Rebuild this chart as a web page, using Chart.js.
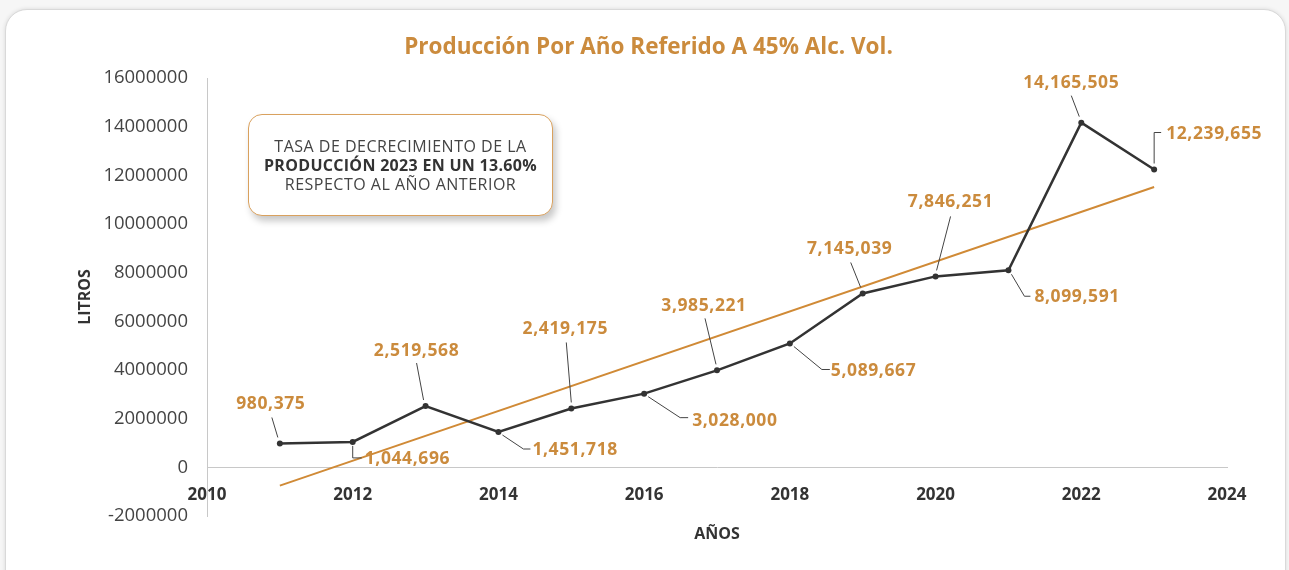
<!DOCTYPE html>
<html>
<head>
<meta charset="utf-8">
<script src="https://cdn.jsdelivr.net/npm/chart.js@4.4.1/dist/chart.umd.min.js"></script>
<style>
  html, body { margin:0; padding:0; width:1289px; height:570px; overflow:hidden; background:#f6f6f6; font-family:"Open Sans", sans-serif; }
  #card { position:absolute; left:5px; top:9px; width:1279px; height:600px; background:#fff; border:1px solid #d9d9d9; border-radius:22px; box-shadow:0 0 4px rgba(0,0,0,0.12); }
  #wrap { position:absolute; left:0; top:0; width:1289px; height:570px; }
  #note { position:absolute; left:248px; top:114px; width:303px; height:100px; background:#fff; border:1px solid #d9a15e; border-radius:14px; box-shadow:3px 5px 7px rgba(0,0,0,0.22); display:flex; flex-direction:column; justify-content:center; align-items:center; color:#444; font-size:16px; letter-spacing:0.5px; line-height:19px; text-align:center; z-index:5; }
  #note b { font-weight:700; color:#333; letter-spacing:0.3px; }
</style>
</head>
<body>
<div id="card"></div>
<div id="wrap"><canvas id="c" width="1289" height="570"></canvas></div>
<div id="note">
  <div>TASA DE DECRECIMIENTO DE LA</div>
  <div><b>PRODUCCIÓN 2023 EN UN 13.60%</b></div>
  <div>RESPECTO AL AÑO ANTERIOR</div>
</div>
<script>
const years = [2011, 2012, 2013, 2014, 2015, 2016, 2017, 2018, 2019, 2020, 2021, 2022, 2023];
const produccion = [980375, 1044696, 2519568, 1451718, 2419175, 3028000, 3985221, 5089667, 7145039, 7846251, 8099591, 14165505, 12239655];
const trendYears = [2011, 2023];
const trendValues = [-750000, 11520000];
const xTickRange = [2010, 2024];
const yTickRange = [-2000000, 16000000];

const ORANGE = '#cb8b3d';
const DARK = '#333333';

// label leader layouts (pixel offsets from the point) — styling only
const labelLayout = [
  {path:[[-2,-6],[-8,-26]], t:[-9,-39], align:'center'},
  {path:[[0,4],[0,16],[9,16]], t:[12,17], align:'left'},
  {path:[[-2,-6],[-9,-43]], t:[-9,-55], align:'center'},
  {path:[[4,3],[25,17],[32,17]], t:[34,18], align:'left'},
  {path:[[0,-6],[-5,-66]], t:[-6,-79], align:'center'},
  {path:[[4,3],[36,24],[44,24]], t:[48,27], align:'left'},
  {path:[[-1,-6],[-12,-52]], t:[-13,-64], align:'center'},
  {path:[[4,3],[32,26],[40,26]], t:[41,28], align:'left'},
  {path:[[-2,-6],[-12,-31]], t:[-13,-44], align:'center'},
  {path:[[1,-6],[15,-60]], t:[15,-74], align:'center'},
  {path:[[3,4],[16,26],[22,26]], t:[26,27], align:'left'},
  {path:[[-2,-6],[-10,-27]], t:[-10,-40], align:'center'},
  {path:[[0,-6],[0,-37],[7,-37]], t:[12,-35], align:'left'}
];

const labelPlugin = {
  id: 'pointLabels',
  afterDatasetsDraw(chart) {
    const ctx = chart.ctx;
    const meta = chart.getDatasetMeta(0);
    ctx.save();
    ctx.letterSpacing = '0.6px';
    meta.data.forEach((pt, i) => {
      const L = labelLayout[i];
      const x = pt.x, y = pt.y;
      ctx.beginPath();
      ctx.strokeStyle = '#444';
      ctx.lineWidth = 1;
      L.path.forEach((p, k) => {
        if (k === 0) ctx.moveTo(x + p[0], y + p[1]); else ctx.lineTo(x + p[0], y + p[1]);
      });
      ctx.stroke();
      ctx.fillStyle = ORANGE;
      ctx.font = '700 17.5px "Open Sans", sans-serif';
      ctx.textAlign = L.align;
      ctx.textBaseline = 'middle';
      ctx.fillText(produccion[i].toLocaleString('en-US'), x + L.t[0], y + L.t[1]);
    });
    ctx.restore();
  }
};

new Chart(document.getElementById('c'), {
  type: 'line',
  data: {
    datasets: [
      {
        label: 'Producción',
        data: years.map((x, i) => ({x, y: produccion[i]})),
        borderColor: DARK,
        backgroundColor: DARK,
        borderWidth: 2.5,
        pointRadius: 3,
        pointBackgroundColor: DARK,
        pointBorderWidth: 0,
        tension: 0,
        order: 1
      },
      {
        label: 'Tendencia',
        data: trendYears.map((x, i) => ({x, y: trendValues[i]})),
        borderColor: '#d08a36',
        borderWidth: 2,
        pointRadius: 0,
        tension: 0,
        order: 2
      }
    ]
  },
  options: {
    responsive: false,
    animation: false,
    devicePixelRatio: 1,
    layout: { padding: { left: 70, right: 62, top: 0, bottom: 54 } },
    plugins: {
      legend: { display: false },
      tooltip: { enabled: false },
      title: {
        display: true,
        text: 'Producción Por Año Referido A 45% Alc. Vol.',
        color: ORANGE,
        font: { family: '"Open Sans", sans-serif', size: 22.5, weight: '700' },
        padding: { top: 34, bottom: 17 }
      }
    },
    scales: {
      x: {
        type: 'linear',
        position: { y: 0 },
        min: xTickRange[0],
        max: xTickRange[1],
        grid: { display: false, drawTicks: false },
        border: { display: true, color: '#c8c8c8', width: 1 },
        ticks: {
          stepSize: 2,
          padding: 18,
          color: '#333',
          font: { family: '"Open Sans", sans-serif', size: 17, weight: '700' },
          callback: v => String(v)
        },
        title: {
          display: true,
          text: 'AÑOS',
          color: '#333',
          font: { family: '"Open Sans", sans-serif', size: 16, weight: '700' },
          padding: { top: 1 }
        }
      },
      y: {
        min: yTickRange[0],
        max: yTickRange[1],
        grid: { display: false, drawTicks: false },
        border: { display: true, color: '#c8c8c8', width: 1 },
        afterFit: s => { s.width = 137; },
        ticks: {
          stepSize: 2000000,
          padding: 19,
          color: '#444',
          font: { family: '"Open Sans", sans-serif', size: 18.5, weight: '400' },
          callback: v => String(v)
        },
        title: {
          display: true,
          text: 'LITROS',
          color: '#333',
          font: { family: '"Open Sans", sans-serif', size: 16, weight: '700' },
          padding: { top: 6, bottom: 0 }
        }
      }
    }
  },
  plugins: [labelPlugin]
});
</script>
</body>
</html>
